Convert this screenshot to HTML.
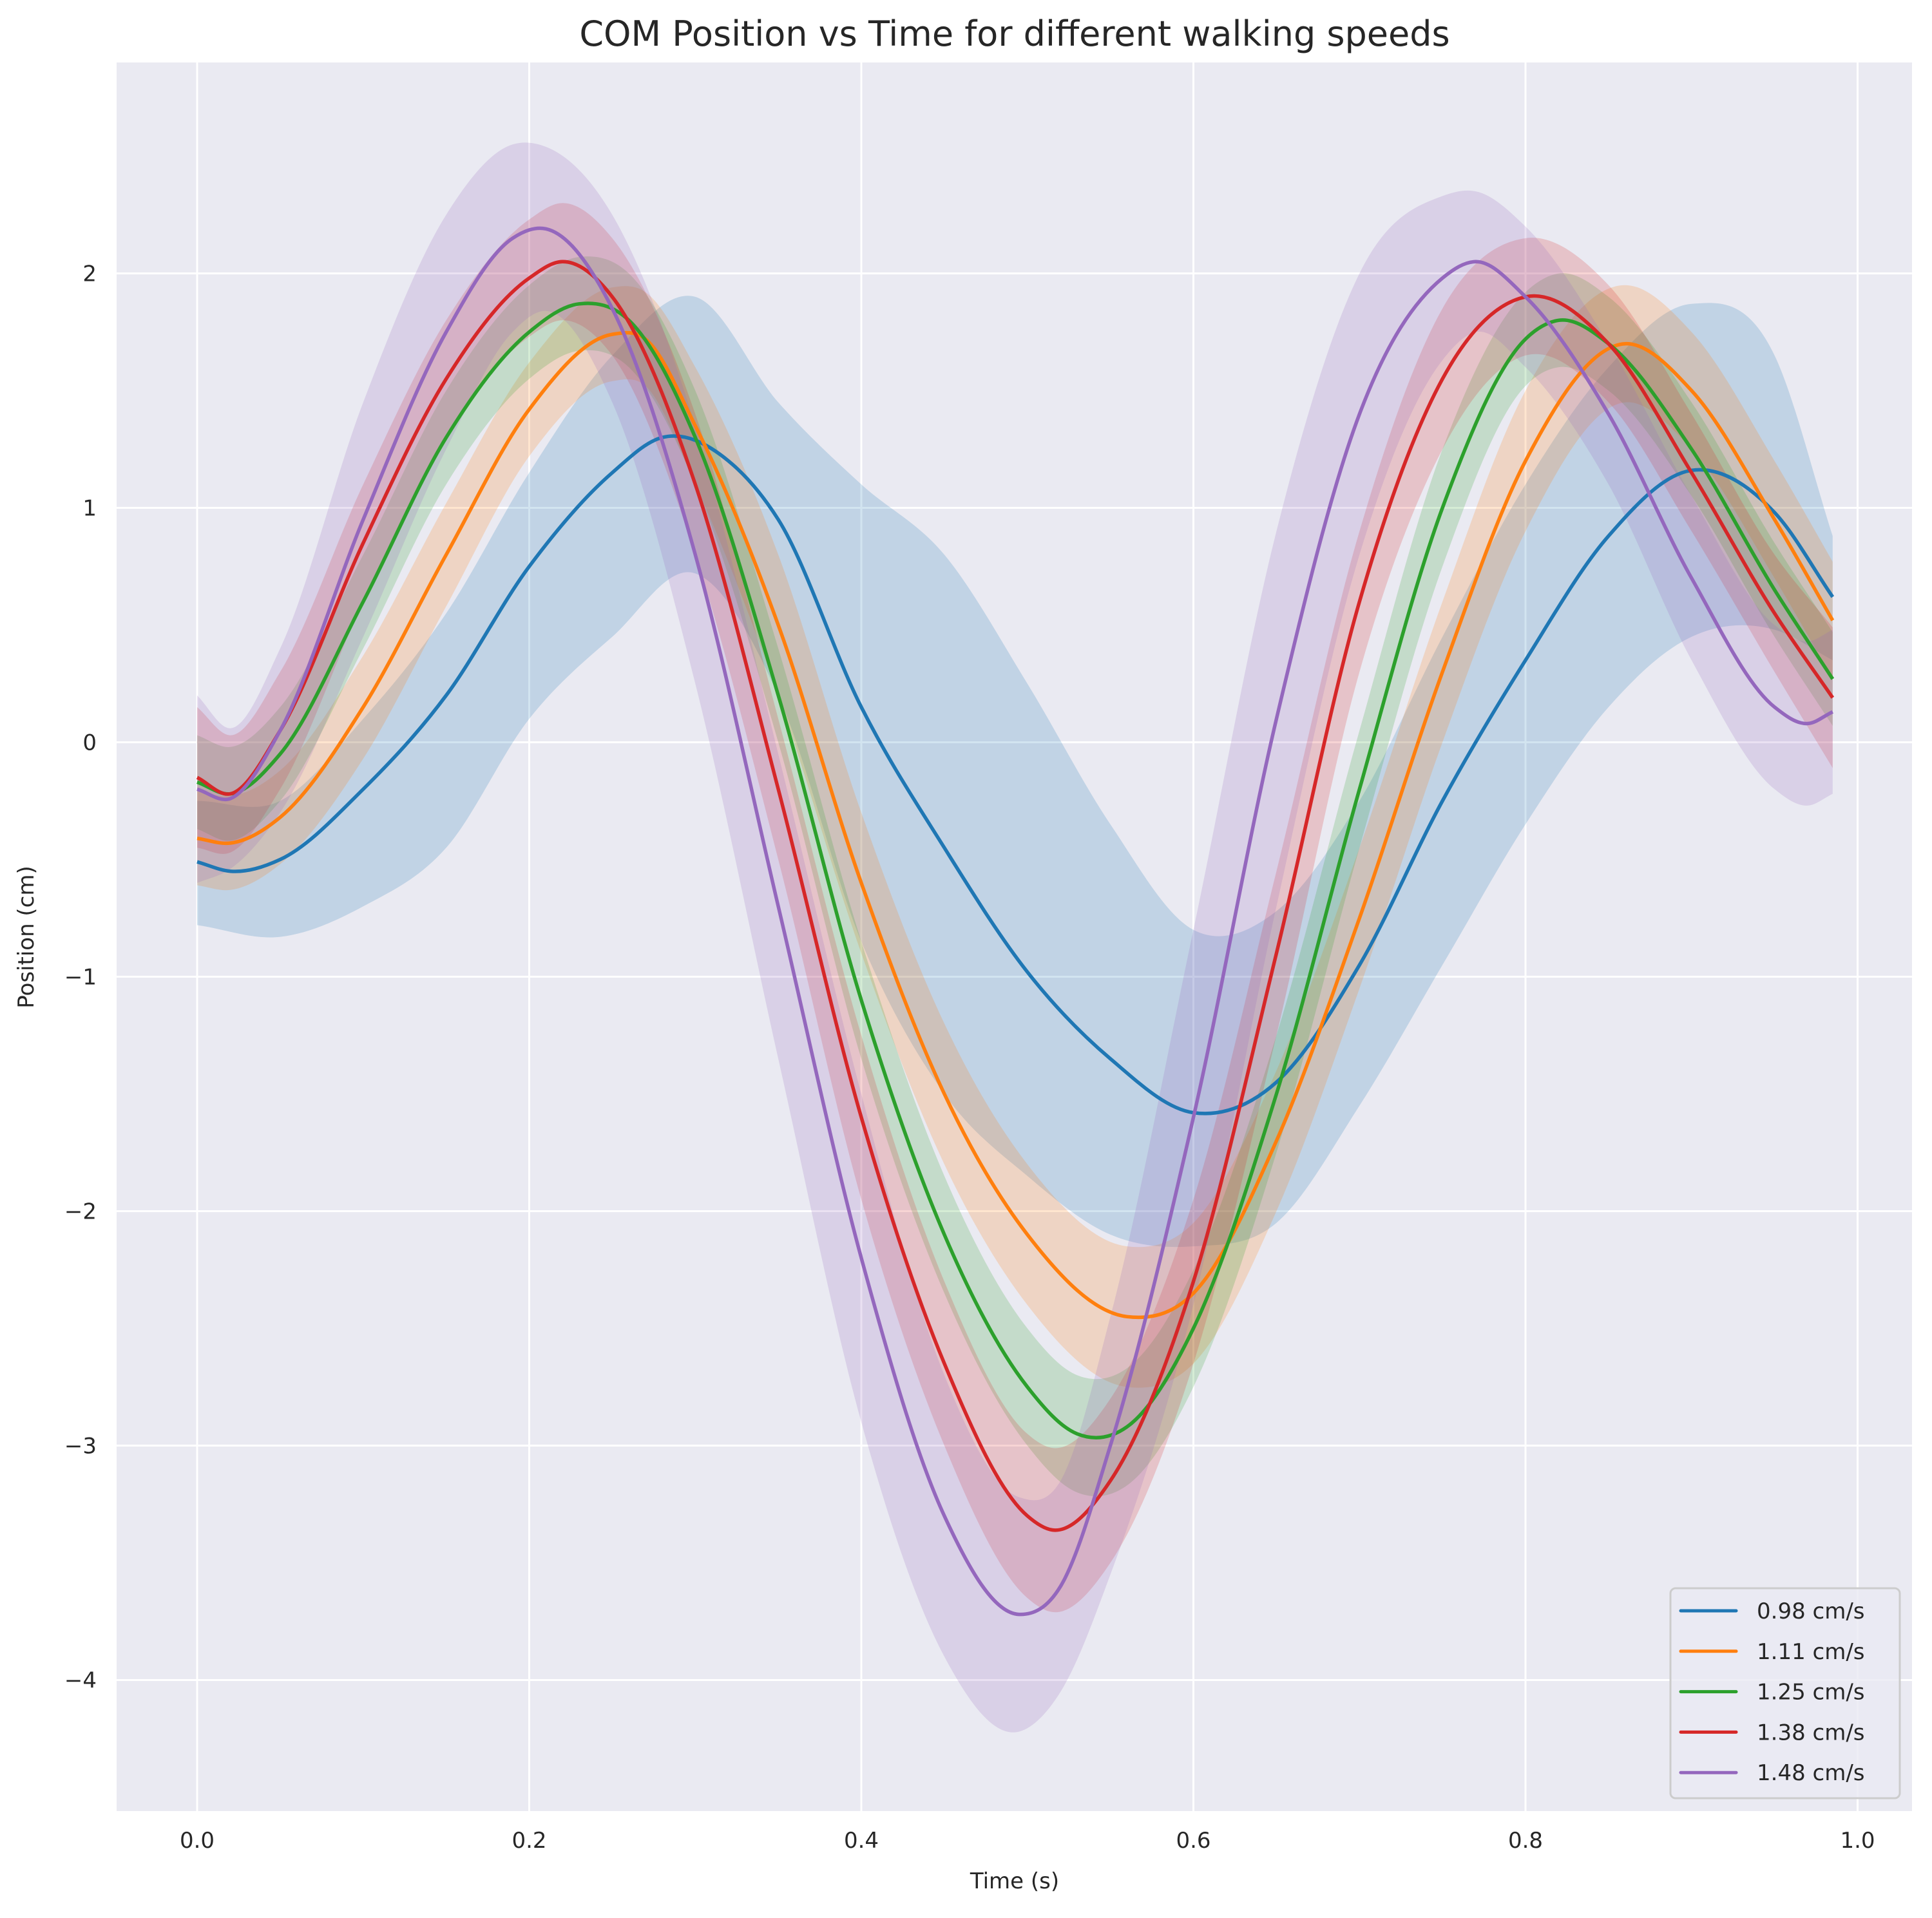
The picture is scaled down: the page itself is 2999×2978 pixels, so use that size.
<!DOCTYPE html>
<html><head><meta charset="utf-8"><style>
body{margin:0;background:#fff}
svg text{font-family:"DejaVu Sans","Liberation Sans",sans-serif;fill:#262626}
</style></head><body>
<svg id="chart" width="2999" height="2973" viewBox="0 0 2999 2973" xmlns="http://www.w3.org/2000/svg">
<rect x="181" y="97" width="2787" height="2715" fill="#eaeaf2"/>
<g id="grid"></g>
<g id="bands"></g>
<g id="lines"></g>
<g id="ticks"></g>
<text x="1575" y="71" font-size="54" text-anchor="middle">COM Position vs Time for different walking speeds</text>
<text x="1575" y="2932" font-size="34" text-anchor="middle">Time (s)</text>
<text x="0" y="0" font-size="34" text-anchor="middle" transform="translate(52,1455) rotate(-90)">Position (cm)</text>
<g>
<rect x="2593" y="2466" width="356" height="326" rx="8" fill="#eaeaf2" fill-opacity="0.8" stroke="#cccccc" stroke-width="3"/>
<g id="legend-items"></g>
</g>
</svg>
<script>
const categories = ["0.98 cm/s","1.11 cm/s","1.25 cm/s","1.38 cm/s","1.48 cm/s"];
const colors = ["#1f77b4","#ff7f0e","#2ca02c","#d62728","#9467bd"];
const xTicks = [0,0.2,0.4,0.6,0.8,1.0];
const xTickLabels = ["0.0","0.2","0.4","0.6","0.8","1.0"];
const yTicks = [-4,-3,-2,-1,0,1,2];
const yTickLabels = ["\u22124","\u22123","\u22122","\u22121","0","1","2"];

const t0 = [0,0.02,0.05,0.1,0.15,0.2,0.25,0.28,0.32,0.35,0.4,0.45,0.5,0.55,0.6,0.65,0.7,0.75,0.8,0.85,0.9,0.95,0.985];
const mean0 = [-0.51,-0.55,-0.5,-0.2,0.2,0.75,1.15,1.3,1.2,0.95,0.15,-0.45,-0.98,-1.35,-1.58,-1.45,-0.95,-0.25,0.35,0.88,1.16,0.98,0.62];
const upper0t = [0,0.05,0.1,0.15,0.2,0.25,0.3,0.35,0.4,0.45,0.5,0.55,0.6,0.65,0.7,0.75,0.8,0.85,0.9,0.95,0.985];
const upper0 = [-0.25,-0.25,0.1,0.55,1.15,1.65,1.9,1.45,1.1,0.8,0.25,-0.35,-0.8,-0.72,-0.25,0.45,1.1,1.6,1.87,1.65,0.88];
const lower0 = [-0.78,-0.83,-0.7,-0.45,0.1,0.45,0.72,0.2,-0.85,-1.5,-1.85,-2.1,-2.15,-2.05,-1.55,-0.95,-0.35,0.15,0.45,0.48,0.35];

const t1 = [0,0.02,0.05,0.1,0.15,0.2,0.25,0.27,0.3,0.35,0.4,0.45,0.5,0.56,0.6,0.65,0.7,0.75,0.8,0.86,0.9,0.95,0.985];
const mean1 = [-0.41,-0.43,-0.32,0.15,0.8,1.42,1.74,1.72,1.35,0.5,-0.6,-1.5,-2.1,-2.45,-2.35,-1.7,-0.75,0.3,1.2,1.7,1.5,0.95,0.52];
const half1 = [0.2,0.2,0.2,0.22,0.22,0.2,0.2,0.2,0.25,0.3,0.3,0.3,0.3,0.3,0.3,0.3,0.3,0.3,0.3,0.25,0.25,0.25,0.25];

const t2 = [0,0.02,0.05,0.1,0.15,0.2,0.23,0.26,0.3,0.35,0.4,0.45,0.5,0.53,0.56,0.6,0.65,0.7,0.75,0.8,0.82,0.85,0.9,0.95,0.985];
const mean2 = [-0.17,-0.22,-0.05,0.6,1.3,1.75,1.87,1.8,1.3,0.2,-1.1,-2.1,-2.75,-2.95,-2.92,-2.5,-1.5,-0.2,1.0,1.72,1.8,1.7,1.25,0.65,0.27];
const half2 = [0.2,0.2,0.2,0.2,0.2,0.2,0.2,0.2,0.2,0.2,0.25,0.25,0.25,0.25,0.25,0.25,0.25,0.25,0.25,0.2,0.2,0.2,0.2,0.2,0.2];

const t3 = [0,0.02,0.05,0.1,0.15,0.2,0.22,0.25,0.3,0.35,0.4,0.45,0.5,0.515,0.55,0.6,0.65,0.7,0.75,0.8,0.85,0.9,0.95,0.985];
const mean3 = [-0.15,-0.22,0.05,0.85,1.55,1.98,2.05,1.9,1.1,-0.2,-1.6,-2.65,-3.3,-3.36,-3.15,-2.3,-0.9,0.6,1.55,1.9,1.7,1.15,0.55,0.19];
const half3 = [0.3,0.25,0.25,0.25,0.25,0.25,0.25,0.25,0.3,0.3,0.35,0.35,0.35,0.35,0.35,0.35,0.35,0.3,0.3,0.25,0.25,0.25,0.25,0.3];

const t4 = [0,0.02,0.05,0.1,0.15,0.19,0.21,0.25,0.3,0.35,0.4,0.45,0.495,0.52,0.55,0.6,0.65,0.7,0.75,0.77,0.8,0.85,0.9,0.95,0.97,0.985];
const mean4 = [-0.2,-0.24,0.05,0.95,1.75,2.15,2.19,1.85,0.8,-0.7,-2.2,-3.3,-3.72,-3.6,-3.0,-1.6,0.1,1.4,1.98,2.05,1.9,1.4,0.7,0.15,0.08,0.13];
const half4 = [0.4,0.3,0.35,0.5,0.5,0.4,0.35,0.4,0.55,0.65,0.7,0.6,0.5,0.45,0.55,0.8,0.8,0.6,0.35,0.3,0.3,0.3,0.35,0.35,0.35,0.35];

const X = t => 306 + t * 2577.5;
const Y = v => 1152.5 - v * 364;
const NS = "http://www.w3.org/2000/svg";

function slopes(ts, vs) {
  const n = ts.length, m = [];
  for (let i = 0; i < n; i++) {
    if (i === 0) m.push((vs[1] - vs[0]) / (ts[1] - ts[0]));
    else if (i === n - 1) m.push((vs[n - 1] - vs[n - 2]) / (ts[n - 1] - ts[n - 2]));
    else {
      const h0 = ts[i] - ts[i - 1], h1 = ts[i + 1] - ts[i];
      const d0 = (vs[i] - vs[i - 1]) / h0, d1 = (vs[i + 1] - vs[i]) / h1;
      m.push((d0 * h1 + d1 * h0) / (h0 + h1));
    }
  }
  return m;
}
function smoothPath(ts, vs, move, rev) {
  const m = slopes(ts, vs);
  const idx = ts.map((_, i) => i);
  if (rev) idx.reverse();
  const f = v => v.toFixed(1);
  let d = (move ? "M" : "L") + f(X(ts[idx[0]])) + "," + f(Y(vs[idx[0]]));
  for (let k = 0; k < idx.length - 1; k++) {
    const i = idx[k], j = idx[k + 1];
    const h = ts[j] - ts[i];
    const c1t = ts[i] + h / 3, c1v = vs[i] + m[i] * h / 3;
    const c2t = ts[j] - h / 3, c2v = vs[j] - m[j] * h / 3;
    d += "C" + f(X(c1t)) + "," + f(Y(c1v)) + " " + f(X(c2t)) + "," + f(Y(c2v)) + " " + f(X(ts[j])) + "," + f(Y(vs[j]));
  }
  return d;
}
function bandPath(ts, up, lo) {
  return smoothPath(ts, up, true, false) + smoothPath(ts, lo, false, true) + "Z";
}

const grid = document.getElementById("grid");
const ticks = document.getElementById("ticks");
xTicks.forEach((t, i) => {
  const l = document.createElementNS(NS, "line");
  l.setAttribute("x1", X(t)); l.setAttribute("x2", X(t)); l.setAttribute("y1", 97); l.setAttribute("y2", 2812);
  l.setAttribute("stroke", "#fff"); l.setAttribute("stroke-width", "3");
  
  
  grid.appendChild(l);
  const tx = document.createElementNS(NS, "text");
  tx.setAttribute("x", X(t)); tx.setAttribute("y", 2869); tx.setAttribute("font-size", "34"); tx.setAttribute("text-anchor", "middle");
  tx.textContent = xTickLabels[i];
  
  
  ticks.appendChild(tx);
});
yTicks.forEach((v, i) => {
  const l = document.createElementNS(NS, "line");
  l.setAttribute("x1", 181); l.setAttribute("x2", 2968); l.setAttribute("y1", Y(v)); l.setAttribute("y2", Y(v));
  l.setAttribute("stroke", "#fff"); l.setAttribute("stroke-width", "3");
  
  
  grid.appendChild(l);
  const tx = document.createElementNS(NS, "text");
  tx.setAttribute("x", 150); tx.setAttribute("y", Y(v) + 12); tx.setAttribute("font-size", "34"); tx.setAttribute("text-anchor", "end");
  tx.textContent = yTickLabels[i];
  
  
  ticks.appendChild(tx);
});

const series = [
  {t: t0, m: mean0, bt: upper0t, up: upper0, lo: lower0},
  {t: t1, m: mean1, h: half1},
  {t: t2, m: mean2, h: half2},
  {t: t3, m: mean3, h: half3},
  {t: t4, m: mean4, h: half4}
];
const bands = document.getElementById("bands");
const lines = document.getElementById("lines");
series.forEach((s, i) => {
  let d;
  if (s.h) d = bandPath(s.t, s.m.map((v, k) => v + s.h[k]), s.m.map((v, k) => v - s.h[k]));
  else d = bandPath(s.bt, s.up, s.lo);
  const b = document.createElementNS(NS, "path");
  b.setAttribute("d", d); b.setAttribute("fill", colors[i]); b.setAttribute("fill-opacity", "0.2");
  
  
  bands.appendChild(b);
  const p = document.createElementNS(NS, "path");
  p.setAttribute("d", smoothPath(s.t, s.m, true, false)); p.setAttribute("fill", "none");
  p.setAttribute("stroke", colors[i]); p.setAttribute("stroke-width", "5.5");
  
  
  lines.appendChild(p);
});

const li = document.getElementById("legend-items");
categories.forEach((c, i) => {
  const y = 2501 + i * 62.8;
  const l = document.createElementNS(NS, "line");
  l.setAttribute("x1", 2609); l.setAttribute("x2", 2695); l.setAttribute("y1", y); l.setAttribute("y2", y);
  l.setAttribute("stroke", colors[i]); l.setAttribute("stroke-width", "5"); l.setAttribute("stroke-linecap", "round");
  
  
  li.appendChild(l);
  const tx = document.createElementNS(NS, "text");
  tx.setAttribute("x", 2727); tx.setAttribute("y", y + 12); tx.setAttribute("font-size", "34");
  tx.textContent = c;
  
  
  li.appendChild(tx);
});
</script>
</body></html>
